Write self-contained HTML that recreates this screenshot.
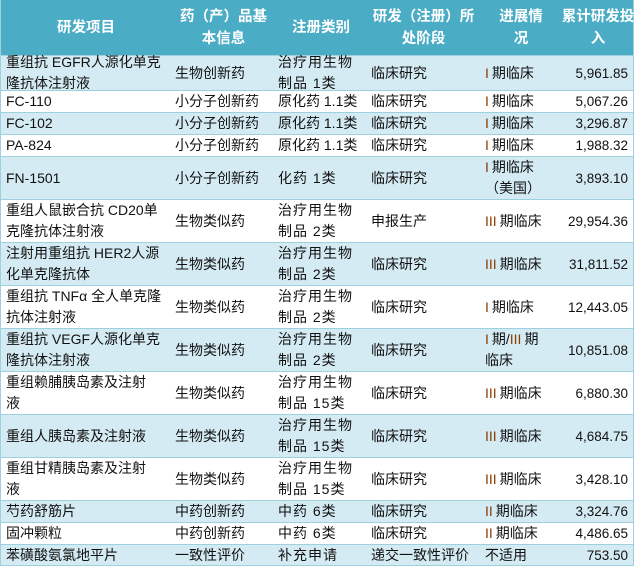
<!DOCTYPE html>
<html><head><meta charset="utf-8"><style>
body{margin:0;background:#fff;width:636px;height:566px;overflow:hidden;position:relative;font-family:"Liberation Sans","Noto Sans CJK SC",sans-serif;font-size:14px;color:#111;}
.row{position:absolute;left:0;width:634px;border-left:1px solid #9fd0df;border-right:1px solid #9fd0df;border-bottom:1px solid #9fd0df;box-sizing:border-box;}
.b{background:#d5ebf3;}.w{background:#fff;}
.h{background:#4bacc6;color:#fff;font-weight:bold;font-size:14.5px;}
.c{position:absolute;top:0;bottom:0;display:flex;align-items:center;line-height:21px;white-space:nowrap;}
.h .c{justify-content:center;text-align:center;line-height:22px;}
.c1{left:5px;width:165px}.c2{left:174px;width:100px}.c3{left:277px;width:90px;letter-spacing:1px}.c4{left:370px;width:110px}.c5{left:484px;width:76px}.c6{left:560px;width:67px;justify-content:flex-end;font-size:13.5px}
.h .c1{left:0;width:170px}.h .c2{left:170px;width:105px}.h .c3{left:275px;width:90px;letter-spacing:0}.h .c4{left:365px;width:115px}.h .c5{left:480px;width:80px}.h .c6{left:560px;width:74px;justify-content:center;font-size:14.5px}
.r{color:#8a3d00;margin-right:3px}
</style></head><body>
<div class="row h" style="top:0;height:56px"><div class="c c1">研发项目</div><div class="c c2">药（产）品基<br>本信息</div><div class="c c3">注册类别</div><div class="c c4">研发（注册）所<br>处阶段</div><div class="c c5">进展情<br>况</div><div class="c c6">累计研发投<br>入</div></div>
<div class="row b" style="top:56px;height:35px"><div class="c c1">重组抗 EGFR人源化单克<br>隆抗体注射液</div><div class="c c2">生物创新药</div><div class="c c3">治疗用生物<br>制品 1类</div><div class="c c4">临床研究</div><div class="c c5"><span class="r">I</span>期临床</div><div class="c c6">5,961.85</div></div>
<div class="row w" style="top:91px;height:22px"><div class="c c1">FC-110</div><div class="c c2">小分子创新药</div><div class="c c3" style="letter-spacing:0">原化药 1.1类</div><div class="c c4">临床研究</div><div class="c c5"><span class="r">I</span>期临床</div><div class="c c6">5,067.26</div></div>
<div class="row b" style="top:113px;height:22px"><div class="c c1">FC-102</div><div class="c c2">小分子创新药</div><div class="c c3" style="letter-spacing:0">原化药 1.1类</div><div class="c c4">临床研究</div><div class="c c5"><span class="r">I</span>期临床</div><div class="c c6">3,296.87</div></div>
<div class="row w" style="top:135px;height:22px"><div class="c c1">PA-824</div><div class="c c2">小分子创新药</div><div class="c c3" style="letter-spacing:0">原化药 1.1类</div><div class="c c4">临床研究</div><div class="c c5"><span class="r">I</span>期临床</div><div class="c c6">1,988.32</div></div>
<div class="row b" style="top:157px;height:43px"><div class="c c1">FN-1501</div><div class="c c2">小分子创新药</div><div class="c c3">化药 1类</div><div class="c c4">临床研究</div><div class="c c5"><div><span class="r">I</span>期临床<br>（美国）</div></div><div class="c c6">3,893.10</div></div>
<div class="row w" style="top:200px;height:43px"><div class="c c1">重组人鼠嵌合抗 CD20单<br>克隆抗体注射液</div><div class="c c2">生物类似药</div><div class="c c3">治疗用生物<br>制品 2类</div><div class="c c4">申报生产</div><div class="c c5"><span class="r">III</span>期临床</div><div class="c c6">29,954.36</div></div>
<div class="row b" style="top:243px;height:43px"><div class="c c1">注射用重组抗 HER2人源<br>化单克隆抗体</div><div class="c c2">生物类似药</div><div class="c c3">治疗用生物<br>制品 2类</div><div class="c c4">临床研究</div><div class="c c5"><span class="r">III</span>期临床</div><div class="c c6">31,811.52</div></div>
<div class="row w" style="top:286px;height:43px"><div class="c c1">重组抗 TNFα 全人单克隆<br>抗体注射液</div><div class="c c2">生物类似药</div><div class="c c3">治疗用生物<br>制品 2类</div><div class="c c4">临床研究</div><div class="c c5"><span class="r">I</span>期临床</div><div class="c c6">12,443.05</div></div>
<div class="row b" style="top:329px;height:43px"><div class="c c1">重组抗 VEGF人源化单克<br>隆抗体注射液</div><div class="c c2">生物类似药</div><div class="c c3">治疗用生物<br>制品 2类</div><div class="c c4">临床研究</div><div class="c c5"><div><span class="r">I</span>期/<span class="r">III</span>期<br>临床</div></div><div class="c c6">10,851.08</div></div>
<div class="row w" style="top:372px;height:43px"><div class="c c1">重组赖脯胰岛素及注射<br>液</div><div class="c c2">生物类似药</div><div class="c c3">治疗用生物<br>制品 15类</div><div class="c c4">临床研究</div><div class="c c5"><span class="r">III</span>期临床</div><div class="c c6">6,880.30</div></div>
<div class="row b" style="top:415px;height:43px"><div class="c c1">重组人胰岛素及注射液</div><div class="c c2">生物类似药</div><div class="c c3">治疗用生物<br>制品 15类</div><div class="c c4">临床研究</div><div class="c c5"><span class="r">III</span>期临床</div><div class="c c6">4,684.75</div></div>
<div class="row w" style="top:458px;height:43px"><div class="c c1">重组甘精胰岛素及注射<br>液</div><div class="c c2">生物类似药</div><div class="c c3">治疗用生物<br>制品 15类</div><div class="c c4">临床研究</div><div class="c c5"><span class="r">III</span>期临床</div><div class="c c6">3,428.10</div></div>
<div class="row b" style="top:501px;height:22px"><div class="c c1">芍药舒筋片</div><div class="c c2">中药创新药</div><div class="c c3">中药 6类</div><div class="c c4">临床研究</div><div class="c c5"><span class="r">II</span>期临床</div><div class="c c6">3,324.76</div></div>
<div class="row w" style="top:523px;height:22px"><div class="c c1">固冲颗粒</div><div class="c c2">中药创新药</div><div class="c c3">中药 6类</div><div class="c c4">临床研究</div><div class="c c5"><span class="r">II</span>期临床</div><div class="c c6">4,486.65</div></div>
<div class="row b" style="top:545px;height:21px"><div class="c c1">苯磺酸氨氯地平片</div><div class="c c2">一致性评价</div><div class="c c3">补充申请</div><div class="c c4">递交一致性评价</div><div class="c c5">不适用</div><div class="c c6">753.50</div></div>
</body></html>
